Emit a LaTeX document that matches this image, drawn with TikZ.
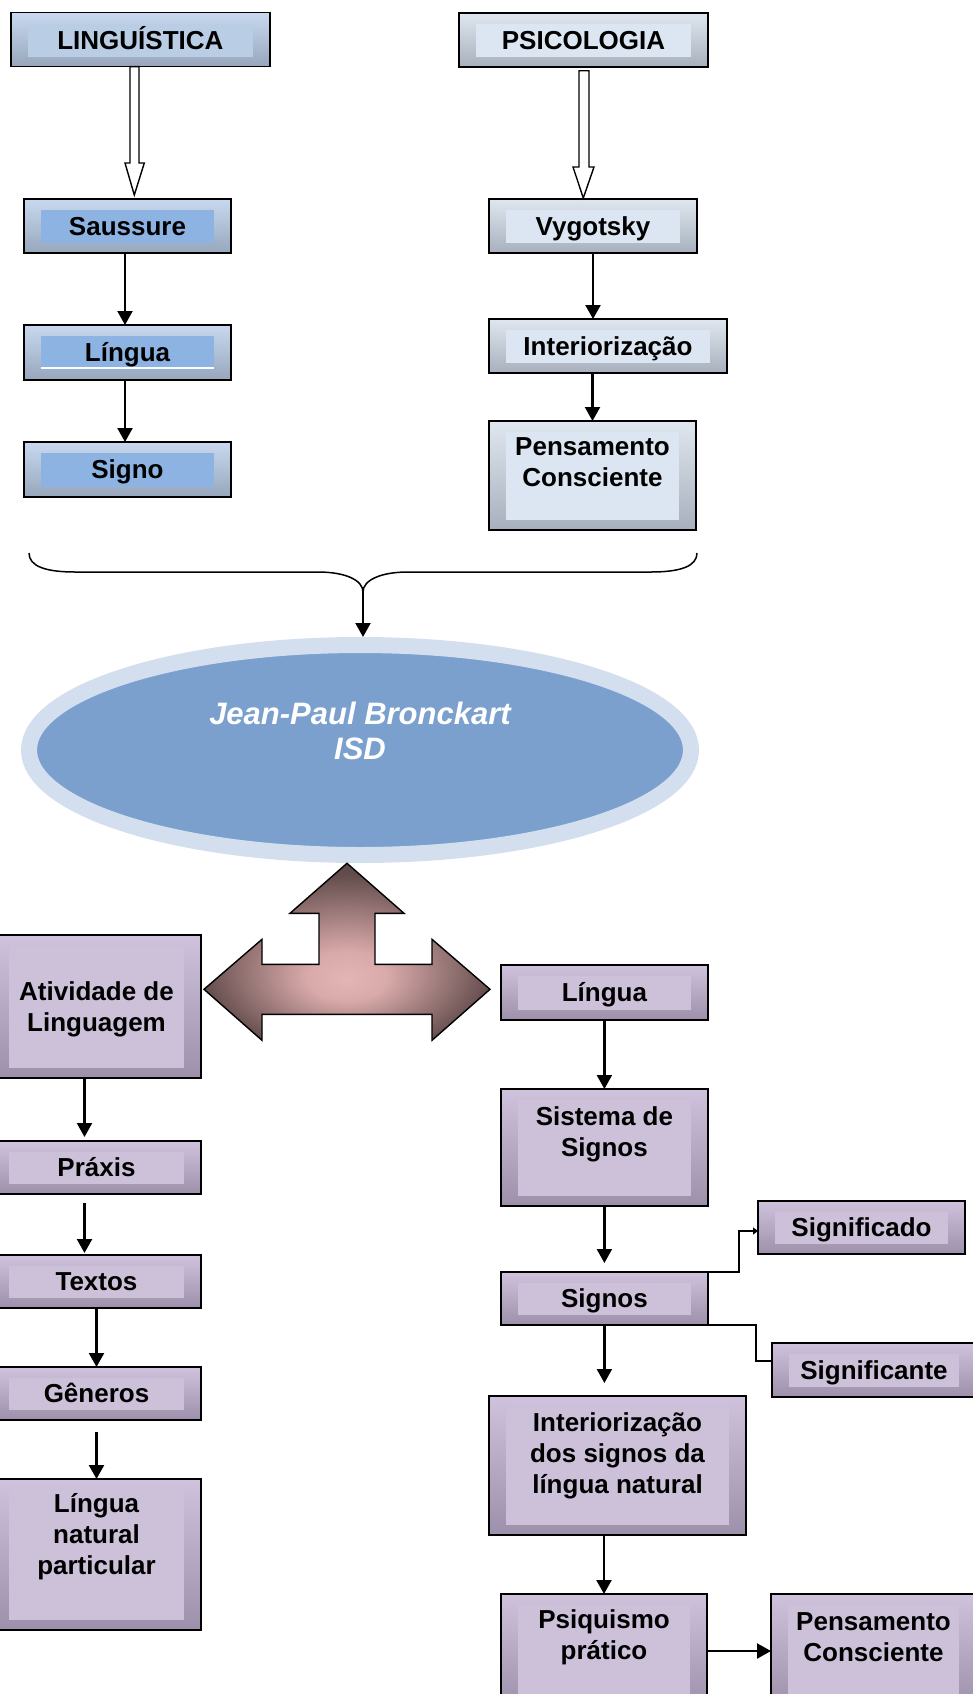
\documentclass[tikz,border=0pt]{standalone}
\usepackage{fontspec}
\setmainfont{Liberation Sans}
\usetikzlibrary{calc,arrows.meta,shapes.geometric}

\definecolor{blueTop}{HTML}{C8D9EF}
\definecolor{blueBot}{HTML}{97A6BB}
\definecolor{blueCore}{HTML}{8DB3E2}
\definecolor{blueHead}{HTML}{B9CDE5}
\definecolor{greyTop}{HTML}{DFE6EF}
\definecolor{greyBot}{HTML}{A7B0BC}
\definecolor{greyCore}{HTML}{DCE6F2}
\definecolor{lilacTop}{HTML}{CEC2DC}
\definecolor{lilacBot}{HTML}{9C90AA}
\definecolor{lilacCore}{HTML}{CCC1D9}
\definecolor{ringBlue}{HTML}{D3DFEE}
\definecolor{isdBlue}{HTML}{7BA0CD}
\definecolor{glowPink}{HTML}{E3B5B5}
\definecolor{glowRose}{HTML}{D9AAAA}
\definecolor{glowBrown}{HTML}{624B4B}

% rose-to-brown glow for the three-way arrow, centred a little below the middle
\pgfdeclareradialshading{triglow}{\pgfpoint{0bp}{-8bp}}{%
  color(0bp)=(glowPink);
  color(7bp)=(glowRose);
  color(26bp)=(glowBrown);
  color(50bp)=(glowBrown)}

\newcommand\boxfont{\fontsize{26}{31}\selectfont\bfseries}
\newcommand\isdfont{\fontsize{31}{35}\selectfont\bfseries\itshape}

\tikzset{
  card/.style={rectangle, draw=black, line width=1.6pt, inner sep=0pt, outer sep=0pt,
    font=\boxfont, text height=18.6pt, text depth=0pt, align=center},
  panel/.style={path picture={\fill[#1]
      ($(path picture bounding box.south west)+(17,-10)$) rectangle
      ($(path picture bounding box.north east)+(-17,11)$);}},
  bluecard/.style={card, top color=blueTop, bottom color=blueBot, panel=#1},
  greycard/.style={card, top color=greyTop, bottom color=greyBot, panel=greyCore},
  lilaccard/.style={card, top color=lilacTop, bottom color=lilacBot, panel=lilacCore},
  dims/.style 2 args={minimum width=#1, minimum height=#2},
  txt/.style={font=\boxfont, align=center, text=black, inner sep=0pt},
  conn/.style={line width=2.2pt, -{Triangle[width=15pt,length=14pt]}},
  smallconn/.style={line width=2.2pt, -{Triangle[width=7pt,length=5pt]}},
  plain/.style={line width=2.2pt},
  hollow/.style={draw=black, fill=white, line width=1.4pt, line join=miter},
  tri/.style={draw=black, line width=1.4pt, shading=triglow, line join=miter},
}

\begin{document}
\begin{tikzpicture}[x=1pt, y=-1pt]
\useasboundingbox (0,0) rectangle (972,1694);

% ---- upper left: linguistics branch
\node[bluecard=blueHead, dims={259pt}{54pt}] (ling) at (140.4,39.7) {LINGUÍSTICA};
\node[bluecard=blueCore, dims={207pt}{54pt}] (sau) at (127.5,226) {Saussure};
\node[bluecard=blueCore, dims={207pt}{55pt}] (lin1) at (127.5,352.5) {Língua};
\node[bluecard=blueCore, dims={207pt}{55pt}] (signo) at (127.5,469.5) {Signo};
\draw[white, line width=1.2pt] ($(lin1.south west)+(17,-12)$) -- ($(lin1.south east)+(-17,-12)$);

% ---- upper right: psychology branch
\node[greycard, dims={249pt}{54pt}] (psi) at (583.5,39.8) {PSICOLOGIA};
\node[greycard, dims={208pt}{54pt}] (vyg) at (593,226) {Vygotsky};
\node[greycard, dims={238pt}{54pt}] (intr) at (608,346) {Interiorização};
\node[greycard, dims={207pt}{109pt},
      label={[txt, yshift=13pt]center:{Pensamento\\Consciente}}] (pens) at (592.5,475.5) {};

% hollow block arrows from the two disciplines
\draw[hollow] ($(ling.south)+(-10.4,0)$) -- ($(sau.north)+(2.5,-36)$) -- ($(sau.north)+(-2.5,-36)$)
  -- ($(sau.north)+(6.8,-4)$) -- ($(sau.north)+(16.8,-36)$) -- ($(sau.north)+(11.5,-36)$)
  -- ($(ling.south)+(-1.4,0)$) -- cycle;
\draw[hollow] ($(psi.south)+(-4.5,4)$) -- ($(vyg.north)+(-14,-32)$) -- ($(vyg.north)+(-20,-32)$)
  -- ($(vyg.north)+(-9.7,-1)$) -- ($(vyg.north)+(1,-32)$) -- ($(vyg.north)+(-4,-32)$)
  -- ($(psi.south)+(5.5,4)$) -- cycle;

\draw[conn] ([xshift=-2.5pt]sau.south) -- ([xshift=-2.5pt]lin1.north);
\draw[conn] ([xshift=-2.5pt]lin1.south) -- ([xshift=-2.5pt]signo.north);
\draw[conn] (vyg.south) -- (vyg.south |- intr.north);
\draw[conn] (pens.north |- intr.south) -- (pens.north);

% ---- brace joining both branches
\coordinate (bl) at (29,553);
\coordinate (br) at (697,553);
\coordinate (cusp) at (363,592);
\draw[line width=1.5pt] (bl) .. controls (29,566) and (45,572) .. (75,572) -- (318,572)
  .. controls (345,572) and (363,580) .. (cusp);
\draw[line width=1.5pt] (br) .. controls (697,566) and (681,572) .. (651,572) -- (408,572)
  .. controls (381,572) and (363,580) .. (cusp);

% ---- central ellipse
\node[ellipse, minimum width=662pt, minimum height=210pt, fill=isdBlue, draw=ringBlue,
      line width=16pt, outer sep=8pt, inner sep=0pt,
      label={[font=\isdfont, text=white, align=center, inner sep=0pt, yshift=19pt]center:{Jean-Paul Bronckart\\ISD}}]
      (isd) at (360,750) {};
\draw[conn] (cusp) -- (cusp |- isd.north);

% ---- three-way block arrow
\begin{scope}[shift={(347,989.3)}]
\draw[tri] (0,-126) -- (57,-76) -- (28,-76) -- (28,-25) -- (85,-25) -- (85,-50) -- (143,0)
  -- (85,51) -- (85,25) -- (-85,25) -- (-85,51) -- (-143,0) -- (-85,-50) -- (-85,-25)
  -- (-28,-25) -- (-28,-76) -- (-57,-76) -- cycle;
\end{scope}

% ---- lower left column
\node[lilaccard, dims={209pt}{143pt},
      label={[txt, yshift=-3pt]center:{Atividade de\\Linguagem}}] (atv) at (96.5,1006.5) {};
\node[lilaccard, dims={209pt}{53pt}] (prax) at (96.5,1167.5) {Práxis};
\node[lilaccard, dims={209pt}{53pt}] (txt) at (96.5,1281.5) {Textos};
\node[lilaccard, dims={209pt}{53pt}] (gen) at (96.5,1393.5) {Gêneros};
\node[lilaccard, dims={209pt}{151pt},
      label={[txt, yshift=18pt]center:{Língua\\natural\\particular}}] (lnp) at (96.5,1554.5) {};

\draw[conn] ([xshift=-12pt]atv.south) -- ([xshift=-12pt,yshift=4pt]prax.north);
\draw[conn] ([xshift=-12pt,yshift=-9pt]prax.south) -- ([xshift=-12pt,yshift=2pt]txt.north);
\draw[conn] (txt.south) -- (gen.north);
\draw[conn] ([yshift=-12pt]gen.south) -- (lnp.north);

% ---- lower right column
\node[lilaccard, dims={207pt}{55pt}] (lin2) at (604.4,992.5) {Língua};
\node[lilaccard, dims={207pt}{117pt},
      label={[txt, yshift=13pt]center:{Sistema de\\Signos}}] (sis) at (604.4,1147.5) {};
\node[lilaccard, dims={207pt}{53pt}] (sig) at (604.4,1298.5) {Signos};
\node[lilaccard, dims={207pt}{53pt}] (sigdo) at (861.5,1227.5) {Significado};
\node[lilaccard, dims={204pt}{54pt}] (sigte) at (874,1370) {Significante};
\node[lilaccard, dims={257pt}{139pt},
      label={[txt, yshift=10pt]center:{Interiorização\\dos signos da\\língua natural}}] (isn) at (617.5,1465.5) {};
\node[lilaccard, dims={206pt}{114pt},
      label={[txt, yshift=14pt]center:{Psiquismo\\prático}}] (psq) at (604,1651) {};
\node[lilaccard, dims={205pt}{114pt},
      label={[txt, yshift=14pt]center:{Pensamento\\Consciente}}] (pc2) at (873.5,1651) {};

\draw[conn] (lin2.south) -- (sis.north);
\draw[conn] (sis.south) -- ([yshift=9pt]sig.north);
\draw[smallconn] (sig.north east) -- ++(31,0) |- ([yshift=-3.5pt]sigdo.west);
\draw[plain] ([xshift=-12pt]sig.south east) -- ++(60,0) |- ([yshift=9pt]sigte.west);
\draw[conn] (sig.south) -- ([yshift=13pt]sig.south |- isn.north);
\draw[conn] (psq.north |- isn.south) -- (psq.north);
\draw[conn] (psq.east) -- (pc2.west);

\end{tikzpicture}
\end{document}
